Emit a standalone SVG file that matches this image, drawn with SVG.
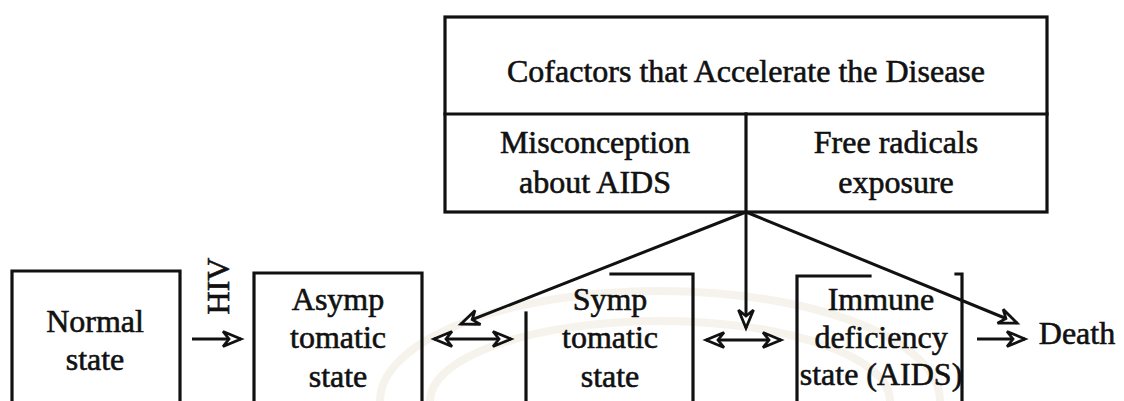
<svg xmlns="http://www.w3.org/2000/svg" width="1124" height="401" viewBox="0 0 1124 401">
  <style>
    .box { fill: none; stroke: #111; stroke-width: 3.2; stroke-linecap: square; }
    .lbl { font-family: "Liberation Serif", "Times New Roman", serif; font-size: 32px; fill: #111; stroke: #111; stroke-width: 0.6; text-anchor: middle; }
    .wire { fill: none; stroke: #111; stroke-width: 3; }
    .seal { fill: none; stroke: #f6f3ec; stroke-width: 8; }
  </style>
  <defs>
    <marker id="head" markerUnits="userSpaceOnUse" markerWidth="26" markerHeight="20" viewBox="-22 -10 26 20" refX="0" refY="0" orient="auto-start-reverse">
      <path d="M0,0 L-18,-7.5 L-12,0 L-18,7.5 Z" fill="#fff" stroke="#111" stroke-width="2.8" stroke-linejoin="miter"/>
    </marker>
  </defs>

  <rect width="1124" height="401" fill="#fff"/>

  <!-- faint seal in the background -->
  <g id="seal">
    <path class="seal" d="M380,401 A280,110 0 0 1 940,401"/>
    <path class="seal" d="M430,401 A230,80 0 0 1 890,401" stroke-width="5"/>
  </g>

  <!-- cofactor table -->
  <g id="cofactors">
    <rect class="box" x="445" y="17" width="602" height="195"/>
    <line class="box" x1="445" y1="114" x2="1047" y2="114"/>
    <line class="box" x1="746" y1="114" x2="746" y2="212"/>
    <text class="lbl" x="746" y="82">Cofactors that Accelerate the Disease</text>
  </g>
  <g id="misconception">
    <text class="lbl" x="595" y="153">Misconception</text>
    <text class="lbl" x="595" y="193">about AIDS</text>
  </g>
  <g id="free-radicals">
    <text class="lbl" x="896" y="153">Free radicals</text>
    <text class="lbl" x="896" y="193">exposure</text>
  </g>

  <!-- disease stages -->
  <g id="normal">
    <path class="box" d="M12,410 V271 H180 V410"/>
    <text class="lbl" x="95" y="332">Normal</text>
    <text class="lbl" x="95" y="370">state</text>
  </g>
  <g id="asymptomatic">
    <path class="box" d="M254,410 V273 H422 V410"/>
    <text class="lbl" x="338" y="310">Asymp</text>
    <text class="lbl" x="338" y="348">tomatic</text>
    <text class="lbl" x="338" y="387">state</text>
  </g>
  <g id="symptomatic">
    <path class="box" d="M526,410 V313"/>
    <path class="box" d="M611,274 H693 V410"/>
    <text class="lbl" x="610" y="310">Symp</text>
    <text class="lbl" x="610" y="348">tomatic</text>
    <text class="lbl" x="610" y="387">state</text>
  </g>
  <g id="immune-deficiency">
    <path class="box" d="M797,410 V276 H870"/>
    <path class="box" d="M956,274 H962 V410"/>
    <text class="lbl" x="881" y="310">Immune</text>
    <text class="lbl" x="881" y="348">deficiency</text>
    <text class="lbl" x="881" y="385">state (AIDS)</text>
  </g>
  <g id="death">
    <text class="lbl" x="1077" y="344">Death</text>
  </g>

  <!-- connectors -->
  <g id="connectors">
    <line class="wire" x1="192" y1="339" x2="241" y2="339" marker-end="url(#head)"/>
    <text class="lbl" transform="translate(229,286) rotate(-90)" x="0" y="0">HIV</text>
    <line class="wire" x1="434" y1="339" x2="511" y2="339" marker-start="url(#head)" marker-end="url(#head)"/>
    <line class="wire" x1="706" y1="340" x2="781" y2="340" marker-start="url(#head)" marker-end="url(#head)"/>
    <line class="wire" x1="977" y1="339" x2="1025" y2="339" marker-end="url(#head)"/>
    <line class="wire" x1="746" y1="212" x2="461" y2="324" marker-end="url(#head)"/>
    <line class="wire" x1="746" y1="212" x2="746" y2="328" marker-end="url(#head)"/>
    <line class="wire" x1="746" y1="212" x2="1017" y2="323" marker-end="url(#head)"/>
  </g>
</svg>
